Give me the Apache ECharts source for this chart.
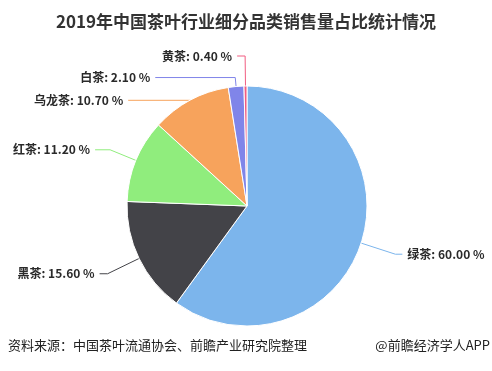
<!DOCTYPE html>
<html><head><meta charset="utf-8">
<script src="https://cdn.jsdelivr.net/npm/echarts@6/dist/echarts.min.js"></script>
<style>html,body{margin:0;padding:0;background:#fff}#c{width:492px;height:371px}</style>
</head><body><div id="c"></div>
<script>
var categories = ['绿茶', '黑茶', '红茶', '乌龙茶', '白茶', '黄茶'];
var values = [60.0, 15.6, 11.2, 10.7, 2.1, 0.4];
var colors = ['#7cb5ec', '#434348', '#90ed7d', '#f7a35c', '#8085e9', '#f15c80'];
var titleText = '2019年中国茶叶行业细分品类销售量占比统计情况';
var sourceText = '资料来源：中国茶叶流通协会、前瞻产业研究院整理';
var brandText = '@前瞻经济学人APP';

// label line lengths per slice [length, length2]
var lineLens = [[36, 7], [35, 8], [28, 15], [0, 62], [9, 80], [30, 8]];

var chart = echarts.init(document.getElementById('c'));
var data = categories.map(function (c, i) {
  return {
    name: c, value: values[i], itemStyle: { color: colors[i] },
    labelLine: { length: lineLens[i][0], length2: lineLens[i][1], lineStyle: { color: colors[i] } }
  };
});
chart.setOption({
  animation: false,
  title: [{
    text: titleText, left: 'center', top: 8,
    textStyle: { fontFamily: 'Noto Sans CJK SC', fontSize: 17, fontWeight: 'bold', color: '#333' }
  }],
  graphic: [
    { type: 'text', left: 8, top: 339, style: { text: sourceText, font: '13px "Noto Sans CJK SC"', fill: '#222' } },
    { type: 'text', right: 2, top: 339, style: { text: brandText, font: '13px "Noto Sans CJK SC"', fill: '#222' } }
  ],
  series: [{
    type: 'pie',
    center: [247, 206],
    radius: [0, 120],
    startAngle: 90,
    clockwise: true,
    data: data,
    itemStyle: { borderColor: '#fff', borderWidth: 1 },
    label: {
      formatter: function (p) { return p.name + ': ' + p.percent.toFixed(2) + ' %'; },
      overflow: 'none',
      fontFamily: 'Noto Sans CJK SC', fontSize: 12, fontWeight: 'bold', color: '#2a2a2a'
    },
    labelLine: { smooth: false, lineStyle: { width: 1 } }
  }]
});
</script></body></html>
